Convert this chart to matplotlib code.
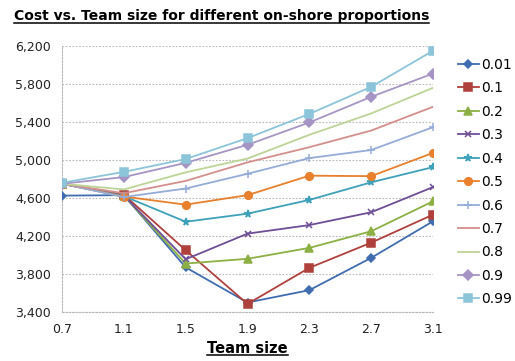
import matplotlib
matplotlib.use('Agg')
import matplotlib.pyplot as plt
from matplotlib.lines import Line2D

team_size = [0.7, 1.1, 1.5, 1.9, 2.3, 2.7, 3.1]
proportions = ['0.01', '0.1', '0.2', '0.3', '0.4', '0.5', '0.6', '0.7', '0.8', '0.9', '0.99']

cost_001 = [4625, 4630, 3870, 3500, 3630, 3970, 4355]
cost_01 = [4750, 4635, 4050, 3485, 3865, 4130, 4425]
cost_02 = [4750, 4625, 3910, 3960, 4075, 4250, 4565]
cost_03 = [4750, 4625, 3955, 4225, 4315, 4450, 4715]
cost_04 = [4750, 4620, 4350, 4435, 4580, 4765, 4925]
cost_05 = [4750, 4615, 4530, 4630, 4835, 4830, 5075]
cost_06 = [4750, 4610, 4700, 4855, 5020, 5105, 5345]
cost_07 = [4750, 4650, 4780, 4975, 5135, 5310, 5560]
cost_08 = [4750, 4690, 4870, 5015, 5265, 5490, 5760]
cost_09 = [4750, 4820, 4970, 5160, 5395, 5665, 5910]
cost_099 = [4760, 4875, 5010, 5230, 5485, 5770, 6150]

series = [cost_001, cost_01, cost_02, cost_03, cost_04, cost_05,
          cost_06, cost_07, cost_08, cost_09, cost_099]

colors = ['#3F6DB0', '#B0403C', '#8CB043', '#6E4E96', '#3EA1BA', '#E8802E',
          '#95ACD8', '#D48E8C', '#BCD495', '#A695C4', '#8CC4DA']
markers = ['D', 's', '^', 'x', '*', 'o', '+', None, None, 'D', 's']
msizes = [4, 5.5, 5.5, 5, 5.5, 5.5, 6, 0, 0, 5, 6]

fig = plt.figure(figsize=(5.15, 3.61), dpi=100)
ax = fig.add_axes([0.1204, 0.1357, 0.7204, 0.7369])

for vals, lab, c, m, ms in zip(series, proportions, colors, markers, msizes):
    ax.plot(team_size, vals, color=c, lw=1.3, marker=m, ms=ms, mew=1.1,
            label=lab, zorder=3)

ax.set_xlim(0.7, 3.1)
ax.set_ylim(3400, 6200)
ax.set_xticks(team_size)
ax.set_xticklabels([str(t) for t in team_size])
ax.set_yticks(range(3400, 6201, 400))
ax.set_yticklabels(['{:,}'.format(v) for v in range(3400, 6201, 400)])
ax.tick_params(labelsize=9, length=0, pad=8, colors='#222222')
ax.grid(axis='y', color='#B8B8B8', ls=(0, (1.5, 1.5)), lw=0.8)
for side in ['top', 'right']:
    ax.spines[side].set_visible(False)
for side in ['left', 'bottom']:
    ax.spines[side].set_color('#B8B8B8')
    ax.spines[side].set_linestyle((0, (1.5, 1.5)))
    ax.spines[side].set_linewidth(0.8)

leg = fig.legend(loc='upper left', bbox_to_anchor=(0.878, 0.855), frameon=False,
                 fontsize=10, handlelength=1.5, handletextpad=0.15,
                 labelspacing=0.68, borderaxespad=0)

title = fig.text(0.027, 0.955, 'Cost vs. Team size for different on-shore proportions',
                 fontsize=10, fontweight='bold', ha='left', va='center')
xlabel = fig.text(0.48, 0.035, 'Team size', fontsize=10.5, fontweight='bold',
                  ha='center', va='center')

# underline the bold labels
fig.canvas.draw()
renderer = fig.canvas.get_renderer()
inv = fig.transFigure.inverted()
for t in [title, xlabel]:
    bb = t.get_window_extent(renderer)
    (x0, y0), (x1, y1) = inv.transform([[bb.x0, bb.y0], [bb.x1, bb.y1]])
    ly = y0 + 0.002
    fig.add_artist(Line2D([x0, x1], [ly, ly], transform=fig.transFigure,
                          color='black', lw=1.1))

fig.savefig('out.png', dpi=100)
